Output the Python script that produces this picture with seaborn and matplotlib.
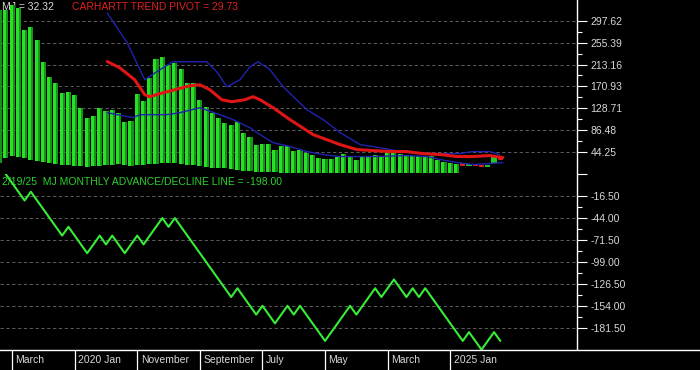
import numpy as np
import pandas as pd
import matplotlib
matplotlib.use("Agg")
import matplotlib.pyplot as plt
import seaborn as sns

# month index: 0 = March 2019, 10 = Jan 2020, ... 70 = Jan 2025
bar_month = list(range(-2, 72))
bar_high = [318, 318, 328, 322, 280, 286, 261, 218, 190, 178, 159, 161, 155, 130, 111,
            115, 130, 124, 126, 120, 103, 105, 157, 142, 188, 224, 228, 213, 216, 205,
            178, 178, 144, 132, 120, 111, 101, 97, 103, 82, 73,
            59, 61, 61, 48, 57, 57, 46, 48, 42, 39, 34, 32, 32, 35, 40, 35, 30, 35, 35,
            39, 37, 44, 46, 40, 37, 38, 37, 38, 37, 30, 26, 24, 22.5]
bar_low = [24.5, 34.1, 37.9, 36.0, 34.1, 30.2, 28.3, 26.4, 24.5, 22.5,
           20.6, 20.6, 18.7, 17.8, 16.8, 17.8, 18.7, 19.7, 20.6, 21.6,
           20.6, 18.7, 19.7, 20.6, 21.6, 22.5, 23.5, 24.5, 23.5, 22.5,
           20.6, 19.7, 18.7, 16.8, 14.9, 13.9, 13.0, 11.1, 10.1, 9.1,
           8.2, 7.2, 7.2, 6.3, 5.3] + [4.7] * 29

# last few small candles
candle_month = [72, 73, 74, 75, 76, 77, 78]
candle_top = [23.9, 22.0, 22.5, 19.3, 20.6, 36.6, 36.6]
candle_bottom = [17.4, 17.4, 17.4, 15.4, 15.4, 23.9, 28.9]
candle_up = [False, True, False, False, True, True, False]

# carhartt trend pivot (red) and the two bands (blue)
red_month = [15.2, 17.2, 19.6, 21.2, 22.0, 23.6, 26.0, 28.4, 30.0, 31.6, 33.5, 35.1, 37.2,
             38.5, 39.6, 41.7, 44.4, 48.1, 52.4, 55.1, 57.7, 60.4, 63.1, 65.6, 68.4, 71.1,
             73.6, 76.3, 78.4]
red_value = [218.9, 206.8, 183.8, 155.0, 151.2, 156.9, 164.6, 172.3, 174.2, 164.6, 145.4,
             141.6, 145.4, 151.2, 145.4, 130.0, 107.0, 78.2, 59.0, 49.4, 47.5, 45.6, 45.6,
             41.7, 39.8, 36.0, 36.0, 37.9, 34.1]
upper_month = [15.2, 18.4, 21.2, 23.1, 25.7, 31.1, 32.7, 34.3, 36.4, 38.0, 39.3, 41.2, 43.3,
               47.1, 49.7, 52.4, 55.6, 57.7, 60.4, 63.1, 66.3, 71.5, 73.6, 76.3, 77.9]
upper_value = [312.4, 254.8, 183.8, 199.2, 218.4, 218.4, 199.2, 170.3, 183.8, 208.7, 218.4,
               203.0, 170.3, 126.2, 107.0, 82.1, 59.0, 55.2, 49.4, 43.7, 41.7, 41.7, 45.6,
               45.6, 39.8]
lower_month = [15.2, 19.3, 20.4, 24.7, 26.8, 30.0, 33.2, 35.3, 38.0, 39.1, 41.7, 44.4, 47.1,
               49.7, 52.4, 57.7, 63.1, 66.3, 68.4, 71.1, 73.6, 76.3, 78.4]
lower_value = [120.4, 110.9, 116.6, 116.6, 120.4, 130.0, 116.6, 107.0, 91.6, 82.1, 62.8,
               55.2, 45.6, 39.8, 36.0, 36.0, 37.9, 36.0, 30.2, 24.5, 20.6, 22.5, 24.5]

# monthly advance/decline line
ad_month = list(range(-1, 79))
ad_value = [11, 0, -11, -22, -11, -22, -33, -44, -55, -66,
            -55, -66, -77, -88, -77, -66, -77, -66, -77, -88,
            -77, -66, -77, -66, -55, -44, -55, -44, -55, -66,
            -77, -88, -99, -110, -121, -132, -143, -132, -143, -154,
            -165, -154, -165, -176, -165, -154, -165, -154, -165, -176,
            -187, -198, -187, -176, -165, -154, -165, -154, -143, -132,
            -143, -132, -121, -132, -143, -132, -143, -132, -143, -154,
            -165, -176, -187, -198, -187, -198, -209, -198, -187, -198]

top_ticks = [44.25, 86.48, 128.71, 170.93, 213.16, 255.39, 297.62]
bot_ticks = [-181.50, -154.00, -126.50, -99.00, -71.50, -44.00, -16.50]
x_label_month = [0, 10, 20, 30, 40, 50, 60, 70]
x_labels = ["March", "2020 Jan", "November", "September", "July", "May", "March", "2025 Jan"]

sns.set_theme(style="dark")
plt.rcParams['font.family'] = ['Liberation Sans', 'DejaVu Sans']

W, H = 700, 370
fig = plt.figure(figsize=(7, 3.7), dpi=100, facecolor='black')
plot_w = 577.3 / W
ax_top = fig.add_axes([0, (H - 174.2) / H, plot_w, 174.2 / H])
ax_bot = fig.add_axes([0, 20 / H, plot_w, 175.8 / H], sharex=ax_top)
ax_strip = fig.add_axes([0, 0, 1, 20 / H])

xmin, xmax = -1.93, 90.3
txt_col = '#d8d8d8'
fs = 7.5

for ax in (ax_top, ax_bot):
    ax.set_facecolor('black')
    for s in ('top', 'left', 'bottom'):
        ax.spines[s].set_visible(False)
    ax.spines['right'].set_color('white')
    ax.spines['right'].set_linewidth(1)
    ax.yaxis.tick_right()
    ax.tick_params(axis='y', which='major', direction='out', length=7.2, width=0.8,
                   color='white', labelcolor=txt_col, labelsize=fs, pad=2.2, right=True)
    ax.tick_params(axis='y', which='minor', direction='out', length=3.6, width=0.8,
                   color='white', right=True)
    ax.tick_params(axis='x', bottom=False, labelbottom=False)
    ax.set_xlim(xmin, xmax)
    ax.set_xlabel('')
    ax.set_ylabel('')

# top panel
ax_top.set_ylim(2.02, 337.35)
ax_top.set_yticks([2.02] + top_ticks)
ax_top.set_yticklabels([''] + [f"{t:.2f}" for t in top_ticks])
ax_top.set_yticks(list((np.array(top_ticks[:-1]) + np.array(top_ticks[1:])) / 2), minor=True)
ax_top.grid(axis='y', which='major', color='#6a6a6a', linestyle=(0, (4, 3)), linewidth=0.6)
ax_top.grid(axis='x', visible=False)

bm = np.array(bar_month)
bh = np.array(bar_high)
bl = np.array(bar_low)
ax_top.bar(bm, bh - bl, bottom=bl, width=0.82, color='#28e028', linewidth=0, zorder=2)
ax_top.bar(bm + 0.24, bh - bl, bottom=bl, width=0.34, color='#169416', linewidth=0, zorder=2)

for m, t, b, up in zip(candle_month, candle_top, candle_bottom, candle_up):
    ax_top.bar(m, t - b, bottom=b, width=0.85, color='#22c822' if up else '#d82020',
               linewidth=0, zorder=2)

lines = pd.concat([
    pd.DataFrame({'month': upper_month, 'value': upper_value, 'band': 'upper'}),
    pd.DataFrame({'month': lower_month, 'value': lower_value, 'band': 'lower'}),
])
sns.lineplot(data=lines, x='month', y='value', units='band', estimator=None,
             color='#2222b0', linewidth=1.0, ax=ax_top, zorder=3, sort=False)
sns.lineplot(x=red_month, y=red_value, color='#e01515', linewidth=2.2, ax=ax_top,
             zorder=4, sort=False)
ax_top.set_xlabel('')
ax_top.set_ylabel('')

ax_top.text(2 / W, 1 - 6.7 / H, "MJ = 32.32", transform=fig.transFigure, color=txt_col,
            fontsize=fs, va='center', ha='left', zorder=1)
ax_top.text(72 / W, 1 - 6.7 / H, "CARHARTT TREND PIVOT = 29.73", transform=fig.transFigure,
            color='#e02020', fontsize=fs, va='center', ha='left', zorder=5)

# bottom panel
ax_bot.set_ylim(-209.4, 11.0)
ax_bot.set_yticks(bot_ticks)
ax_bot.set_yticklabels([f"{t:.2f}" for t in bot_ticks])
ax_bot.set_yticks(list((np.array(bot_ticks[:-1]) + np.array(bot_ticks[1:])) / 2), minor=True)
ax_bot.grid(axis='y', which='major', color='#6a6a6a', linestyle=(0, (4, 3)), linewidth=0.6)
ax_bot.grid(axis='x', visible=False)
sns.lineplot(x=ad_month, y=ad_value, color='#38ec38', linewidth=1.5, ax=ax_bot, zorder=3)
ax_bot.set_xlabel('')
ax_bot.set_ylabel('')
ax_bot.text(2 / W, 1 - 181.7 / H, "2/19/25  MJ MONTHLY ADVANCE/DECLINE LINE = -198.00",
            transform=fig.transFigure, color='#2ed02e', fontsize=fs, va='center', ha='left',
            zorder=2)

# date strip
ax_strip.set_facecolor('black')
px_per_month = 577.3 / (xmax - xmin)
ax_strip.set_xlim(xmin, xmin + W / px_per_month)
ax_strip.set_ylim(0, 1)
for s in ('left', 'right', 'bottom'):
    ax_strip.spines[s].set_visible(False)
ax_strip.spines['top'].set_color('white')
ax_strip.spines['top'].set_linewidth(1)
ax_strip.set_xticks([])
ax_strip.set_yticks([])
ax_strip.grid(False)
for m, lab in zip(x_label_month, x_labels):
    ax_strip.axvline(m, color='white', linewidth=0.9)
    ax_strip.text(m + 0.55, 0.5, lab, color=txt_col, fontsize=fs, va='center', ha='left')

fig.savefig("out.png", dpi=100, facecolor='black')
